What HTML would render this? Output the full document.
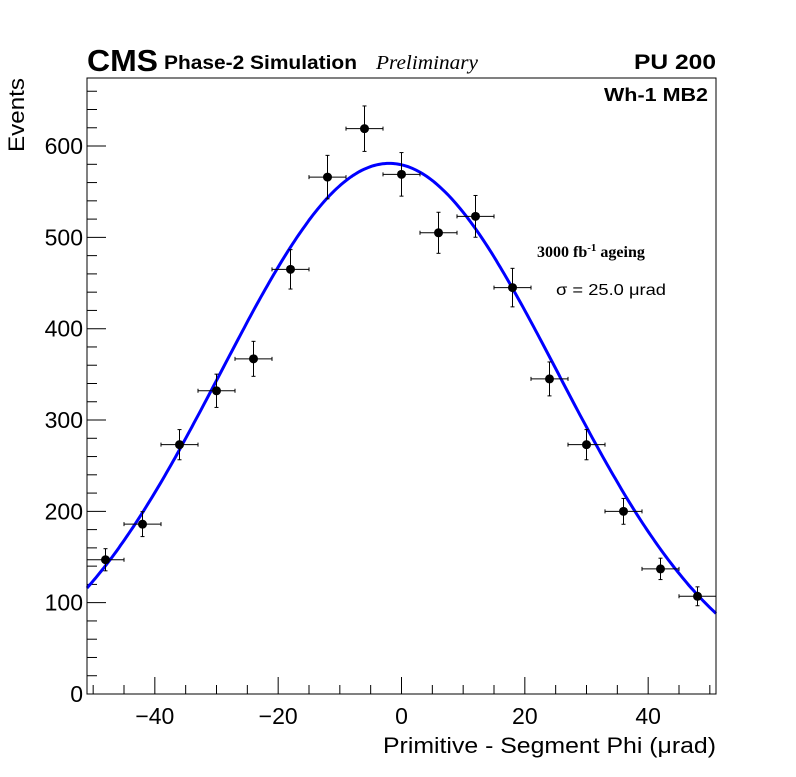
<!DOCTYPE html>
<html><head><meta charset="utf-8"><style>
body{margin:0;background:#fff;}
svg text{font-family:"Liberation Sans",sans-serif;}
</style></head><body>
<svg id="chart" width="796" height="772" xmlns="http://www.w3.org/2000/svg">
<rect width="796" height="772" fill="#fff"/>
<g id="axes"></g>
<g id="fit"></g>
<g id="points"></g>
<rect x="87" y="78" width="629" height="616" fill="none" stroke="#000" stroke-width="1"/>
<text x="87" y="71" font-size="31" font-weight="bold" textLength="71" lengthAdjust="spacingAndGlyphs">CMS</text>
<text x="164" y="69" font-size="19" font-weight="bold" textLength="193" lengthAdjust="spacingAndGlyphs">Phase-2 Simulation</text>
<text x="376" y="69" font-size="20" font-style="italic" textLength="102" lengthAdjust="spacingAndGlyphs" style="font-family:'Liberation Serif',serif">Preliminary</text>
<text x="634" y="69" font-size="21" font-weight="bold" textLength="82" lengthAdjust="spacingAndGlyphs">PU 200</text>
<text x="604" y="101" font-size="18" font-weight="bold" textLength="104" lengthAdjust="spacingAndGlyphs">Wh-1 MB2</text>
<text x="537" y="257" font-size="16" font-weight="bold" style="font-family:'Liberation Serif',serif">3000 fb<tspan dy="-6" font-size="11">-1</tspan><tspan dy="6"> ageing</tspan></text>
<text x="556" y="295" font-size="16" textLength="110" lengthAdjust="spacingAndGlyphs">σ = 25.0 μrad</text>
<text x="383" y="753" font-size="22" textLength="333" lengthAdjust="spacingAndGlyphs">Primitive - Segment Phi (μrad)</text>
<text x="0" y="0" font-size="22" text-anchor="end" textLength="74" lengthAdjust="spacingAndGlyphs" transform="translate(24,78) rotate(-90)">Events</text>
</svg>
<script>
const binCenters=[-48,-42,-36,-30,-24,-18,-12,-6,0,6,12,18,24,30,36,42,48];
const counts=[147,186,273,332,367,465,566,619,569,505,523,445,345,273,200,137,107];
const fitParams=[581,-2,27.3];
const xTicks=[-40,-20,0,20,40];
const yTicks=[0,100,200,300,400,500,600];
const X0=87,X1=716,Y0=694,Y1=78,xmin=-51,xmax=51,ymin=0,ymax=674.5;
const sx=v=>X0+(v-xmin)/(xmax-xmin)*(X1-X0);
const sy=v=>Y0-(v-ymin)/(ymax-ymin)*(Y0-Y1);
const NS="http://www.w3.org/2000/svg";
function mk(t,a,p){const e=document.createElementNS(NS,t);for(const k in a)e.setAttribute(k,a[k]);p.appendChild(e);return e;}
const ax=document.getElementById('axes');
for(let v=-50;v<=50;v+=5){const major=v%20===0;
 const l=mk('line',{x1:sx(v),x2:sx(v),y1:Y0,y2:Y0-(major?17:9),stroke:'#000'},ax);
 
 }
xTicks.forEach(v=>{const t=mk('text',{x:sx(v),y:724,'font-size':23,'text-anchor':'middle'},ax);t.textContent=(v<0?'\u2212'+(-v):v);
 
 });
for(let v=0;v<=660;v+=20){const major=v%100===0;
 const l=mk('line',{x1:X0,x2:X0+(major?19:10),y1:sy(v),y2:sy(v),stroke:'#000'},ax);
 
 }
yTicks.forEach(v=>{const t=mk('text',{x:83,y:sy(v)+8,'font-size':23,'text-anchor':'end'},ax);t.textContent=v;
 
 });
const f=document.getElementById('fit');let d='';
for(let i=0;i<=300;i++){const x=xmin+(xmax-xmin)*i/300;const y=fitParams[0]*Math.exp(-Math.pow(x-fitParams[1],2)/(2*fitParams[2]*fitParams[2]));d+=(i?'L':'M')+sx(x).toFixed(1)+','+sy(y).toFixed(1);}
const p=mk('path',{d:d,fill:'none',stroke:'#0000ff','stroke-width':3},f);


const pg=document.getElementById('points');
binCenters.forEach((c,i)=>{const n=counts[i],e=Math.sqrt(n);
 const g=mk('g',{},pg);
 
 
 mk('line',{x1:sx(c-3),x2:sx(c+3),y1:sy(n),y2:sy(n),stroke:'#000'},g);
 mk('line',{x1:sx(c),x2:sx(c),y1:sy(n-e),y2:sy(n+e),stroke:'#000'},g);
 [c-3,c+3].forEach(x=>mk('line',{x1:sx(x),x2:sx(x),y1:sy(n)-2,y2:sy(n)+2,stroke:'#000'},g));
 [n-e,n+e].forEach(y=>mk('line',{x1:sx(c)-2,x2:sx(c)+2,y1:sy(y),y2:sy(y),stroke:'#000'},g));
 mk('circle',{cx:sx(c),cy:sy(n),r:4.5,fill:'#000'},g);});
</script>
</body></html>
